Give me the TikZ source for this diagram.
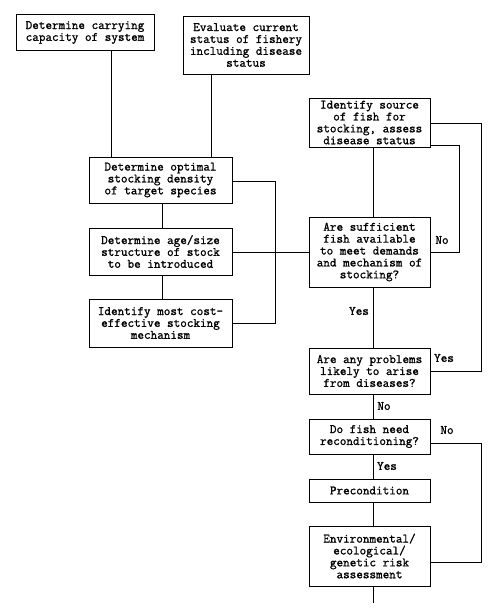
\documentclass[tikz,border=0pt]{standalone}
\usepackage{fontspec}
\newfontfamily\courfont[FakeBold=1.2]{Latin Modern Mono}
\begin{document}
\begin{tikzpicture}[x=1pt,y=-1pt,
  box/.style={draw,line width=0.9pt,inner sep=0pt,align=center,
    font=\courfont\fontsize{12.8}{11.9}\selectfont},
  lab/.style={inner sep=0pt,font=\courfont\fontsize{12.8}{11.9}\selectfont},
  conn/.style={line width=0.9pt}]
\useasboundingbox (0,0) rectangle (500,616);
\node[box,minimum width=138pt,minimum height=36pt] (b1) at (85,32.5) {Determine carrying\\capacity of system};
\node[box,minimum width=126pt,minimum height=58pt] (b2) at (246,45) {Evaluate current\\status of fishery\\including disease\\status};
\node[box,minimum width=143pt,minimum height=46pt] (b3) at (160.5,180) {Determine optimal\\stocking density\\of target species};
\node[box,minimum width=143pt,minimum height=47pt] (b4) at (160.5,251.5) {Determine age/size\\structure of stock\\to be introduced};
\node[box,minimum width=143pt,minimum height=48pt] (b5) at (160.5,323) {Identify most cost-\\effective stocking\\mechanism};
\node[box,minimum width=121pt,minimum height=49pt] (b6) at (369.5,122.5) {Identify source\\of fish for\\stocking, assess\\disease status};
\node[box,minimum width=121pt,minimum height=70pt] (b7) at (369.5,252) {Are sufficient\\fish available\\to meet demands\\and mechanism of\\stocking?};
\node[box,minimum width=121pt,minimum height=46pt] (b8) at (369.5,371) {Are any problems\\likely to arise\\from diseases?};
\node[box,minimum width=121pt,minimum height=35pt] (b9) at (369.5,436.5) {Do fish need\\reconditioning?};
\node[box,minimum width=121pt,minimum height=23pt] (b10) at (369.5,490.5) {Precondition};
\node[box,minimum width=121pt,minimum height=60pt] (b11) at (369.5,556) {Environmental/\\ecological/\\genetic risk\\assessment};
\coordinate (end) at (373,603);
% connectors
\draw[conn] (b1.south -| 111,0) -- (b3.north -| 111,0);
\draw[conn] (b2.south -| 211,0) -- (b3.north -| 211,0);
\draw[conn] (b3.south -| 162,0) -- (b4.north -| 162,0);
\draw[conn] (b4.south -| 162,0) -- (b5.north -| 162,0);
\draw[conn] (b3.east |- 0,181) -- (275,181) -- (275,323) -- (b5.east |- 0,323);
\draw[conn] (b4.east |- 0,252) -- (b7.west |- 0,252);
\draw[conn] (b6.south -| 373,0) -- (b7.north -| 373,0);
\draw[conn] (b7.south -| 373,0) -- (b8.north -| 373,0);
\draw[conn] (b8.south -| 373,0) -- (b9.north -| 373,0);
\draw[conn] (b9.south -| 373,0) -- (b10.north -| 373,0);
\draw[conn] (b10.south -| 373,0) -- (b11.north -| 373,0);
\draw[conn] (b11.south -| 373,0) -- (end);
\draw[conn] (b6.east |- 0,145) -- (459,145) -- (459,252) -- (b7.east |- 0,252);
\draw[conn] (b6.east |- 0,123) -- (481,123) -- (481,371) -- (b8.east |- 0,371);
\draw[conn] (b9.east |- 0,443) -- (481,443) -- (481,562) -- (b11.east |- 0,562);
% labels
\node[lab] (l1) at (442,240) {No};
\node[lab] (l2) at (359,311) {Yes};
\node[lab] (l3) at (444,358) {Yes};
\node[lab] (l4) at (384,406) {No};
\node[lab] (l5) at (447,430) {No};
\node[lab] (l6) at (387,466) {Yes};
\end{tikzpicture}
\end{document}
